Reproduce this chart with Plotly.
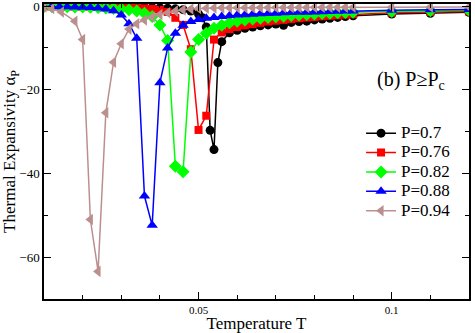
import plotly.graph_objects as go

# temperature grids
T_fine = [0.010, 0.012, 0.014, 0.016, 0.018, 0.020, 0.022, 0.024, 0.026, 0.028,
          0.030, 0.032, 0.034, 0.036, 0.038, 0.040, 0.042, 0.044, 0.046, 0.048,
          0.050, 0.051, 0.052, 0.053, 0.054, 0.055, 0.056, 0.058, 0.060, 0.062,
          0.064, 0.066, 0.068, 0.070, 0.072, 0.074, 0.076, 0.078, 0.080, 0.082,
          0.084, 0.086, 0.088, 0.090, 0.100, 0.110, 0.120]
T_std = [0.010, 0.012, 0.014, 0.016, 0.018, 0.020, 0.022, 0.024, 0.026, 0.028,
         0.030, 0.032, 0.034, 0.036, 0.038, 0.040, 0.042, 0.044, 0.046, 0.048,
         0.050, 0.052, 0.054, 0.056, 0.058, 0.060, 0.062, 0.064, 0.066, 0.068,
         0.070, 0.072, 0.074, 0.076, 0.078, 0.080, 0.082, 0.084, 0.086, 0.088,
         0.090, 0.100, 0.110, 0.120]
T_brown = [0.010, 0.012, 0.0145, 0.018, 0.020, 0.022, 0.024, 0.026, 0.028, 0.030,
           0.032, 0.034, 0.036, 0.038, 0.040, 0.042, 0.044, 0.046, 0.048, 0.050,
           0.052, 0.054, 0.056, 0.058, 0.060, 0.062, 0.064, 0.066, 0.068, 0.070,
           0.072, 0.074, 0.076, 0.078, 0.080, 0.082, 0.084, 0.086, 0.088, 0.090,
           0.100, 0.110, 0.120]

alpha_070 = [-0.05, -0.05, -0.06, -0.07, -0.08, -0.10, -0.11, -0.13, -0.15, -0.17,
             -0.20, -0.22, -0.26, -0.30, -0.36, -0.43, -0.52, -0.65, -0.85, -1.2,
             -1.9, -2.8, -5.0, -29.7, -34.3, -13.5, -8.5, -6.4, -5.8, -5.3,
             -5.0, -4.7, -4.5, -4.3, -4.6, -3.9, -3.7, -3.6, -3.3, -3.1,
             -2.9, -2.7, -2.5, -2.3, -1.9, -1.7, -1.5]
alpha_076 = [-0.08, -0.09, -0.10, -0.12, -0.13, -0.15, -0.17, -0.20, -0.23, -0.27,
             -0.32, -0.38, -0.45, -0.55, -0.70, -0.90, -1.4, -2.8, -4.5, -10.3,
             -29.6, -26.2, -8.0, -6.3, -5.5, -5.0, -4.6, -4.3, -4.0, -3.7,
             -3.5, -3.3, -3.1, -2.9, -2.75, -2.6, -2.45, -2.3, -2.2, -2.05,
             -1.95, -1.6, -1.4, -1.3]
alpha_082 = [-0.10, -0.12, -0.14, -0.17, -0.20, -0.24, -0.29, -0.35, -0.43, -0.55,
             -0.70, -0.90, -1.2, -1.7, -2.5, -4.5, -8.2, -38.3, -39.6, -11.0,
             -8.0, -6.5, -5.3, -4.6, -4.0, -3.6, -3.3, -3.1, -2.9, -2.7,
             -2.55, -2.4, -2.25, -2.1, -2.0, -1.9, -1.8, -1.7, -1.6, -1.55,
             -1.5, -1.3, -1.1, -1.0]
alpha_088 = [-0.10, -0.12, -0.15, -0.18, -0.22, -0.28, -0.36, -0.48, -0.68, -1.1,
             -2.1, -4.2, -7.7, -45.4, -52.4, -18.3, -10.0, -6.5, -4.6, -3.7,
             -3.2, -2.9, -2.7, -2.5, -2.3, -2.15, -2.05, -1.95, -1.85, -1.75,
             -1.7, -1.6, -1.55, -1.5, -1.45, -1.4, -1.35, -1.3, -1.25, -1.2,
             -1.15, -1.0, -0.9, -0.8]
alpha_094 = [-0.2, -0.6, -1.4, -3.6, -8.0, -51.0, -63.4, -25.5, -13.4, -9.0,
             -5.5, -4.2, -3.3, -2.6, -2.0, -1.6, -1.2, -0.9, -0.7, -0.55,
             -0.5, -0.45, -0.42, -0.4, -0.4, -0.38, -0.37, -0.36, -0.35, -0.34,
             -0.33, -0.32, -0.32, -0.31, -0.3, -0.3, -0.3, -0.3, -0.3, -0.3,
             -0.25, -0.2, -0.2]

series = [
    ("P=0.7", T_fine, alpha_070, "#000000", "circle", 9),
    ("P=0.76", T_std, alpha_076, "#ff0000", "square", 8),
    ("P=0.82", T_std, alpha_082, "#00ff00", "diamond", 10),
    ("P=0.88", T_std, alpha_088, "#0000ff", "triangle-up", 10),
    ("P=0.94", T_brown, alpha_094, "#bc8f8f", "triangle-left", 10),
]

serif = "Liberation Serif"

fig = go.Figure()
for name, t, a, color, symbol, size in series:
    fig.add_trace(go.Scatter(
        x=t, y=a, mode="lines+markers",
        name=f"<span style='font-size:17px'>{name}</span>",
        line=dict(color=color, width=1.5),
        marker=dict(color=color, symbol=symbol, size=size),
    ))

fig.add_annotation(
    x=0.864, y=0.742, xref="paper", yref="paper",
    xanchor="center", yanchor="middle",
    text="(b) P\u2265P<sub>c</sub>", showarrow=False,
    font=dict(family=serif, size=20, color="black"),
)

fig.update_layout(
    width=475, height=333,
    margin=dict(l=44, r=6, t=4, b=34),
    plot_bgcolor="white",
    paper_bgcolor="white",
    font=dict(family=serif, color="black"),
    showlegend=True,
    legend=dict(
        x=0.746, y=0.612, xanchor="left", yanchor="top",
        bgcolor="rgba(0,0,0,0)", font=dict(family=serif, size=12.6),
        tracegroupgap=0, itemwidth=30,
    ),
    xaxis=dict(
        range=[0.01, 0.12], tickvals=[0.05, 0.1], ticktext=["0.05", "0.1"],
        ticks="inside", ticklen=7, tickcolor="black", automargin=False,
        ticklabeloverflow="allow",
        minor=dict(dtick=0.01, tick0=0, ticks="inside", ticklen=4, tickcolor="black"),
        showline=True, linecolor="black", linewidth=1.5, mirror="ticks",
        showgrid=False, zeroline=False,
        tickfont=dict(family=serif, size=11),
        title=dict(text="Temperature T", font=dict(family=serif, size=17), standoff=2),
    ),
    yaxis=dict(
        range=[-70, 0.5], tickvals=[0, -20, -40, -60],
        ticks="inside", ticklen=7, tickcolor="black", automargin=False,
        ticklabeloverflow="allow",
        minor=dict(dtick=10, tick0=0, ticks="inside", ticklen=4, tickcolor="black"),
        showline=True, linecolor="black", linewidth=1.5, mirror="ticks",
        showgrid=False, zeroline=False,
        tickfont=dict(family=serif, size=13),
        title=dict(text="Thermal Expansivity \u03b1<sub>P</sub>",
                   font=dict(family=serif, size=17), standoff=2),
    ),
)

fig.write_html("out.html", config={"displayModeBar": False},
               post_script="document.body.style.margin='0';document.body.style.overflow='hidden';")
